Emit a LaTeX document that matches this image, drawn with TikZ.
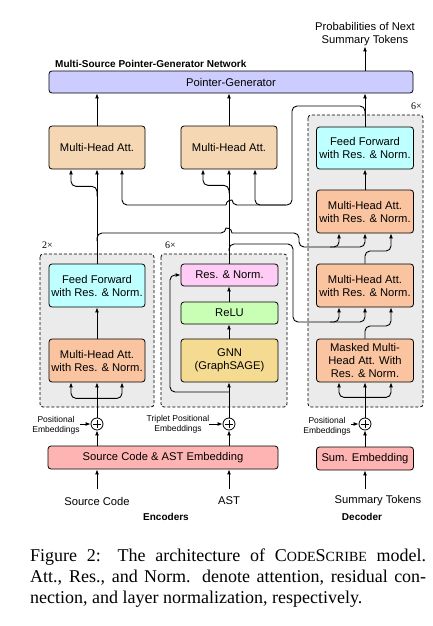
\documentclass[tikz,border=0pt]{standalone}
\usepackage{fontspec}
\setmainfont{Liberation Sans}
\newfontfamily\capfont{Liberation Serif}
\usetikzlibrary{arrows.meta,calc}
\definecolor{pgc}{RGB}{204,204,255}
\definecolor{mhac}{RGB}{245,215,180}
\definecolor{ffc}{RGB}{190,255,255}
\definecolor{mhrc}{RGB}{250,196,160}
\definecolor{resc}{RGB}{255,204,245}
\definecolor{reluc}{RGB}{200,255,180}
\definecolor{gnnc}{RGB}{245,218,145}
\definecolor{embc}{RGB}{255,180,180}
\definecolor{grpc}{RGB}{235,235,235}
\newcommand\smc[1]{{\fontsize{14}{14}\selectfont #1}}
\begin{document}
\begin{tikzpicture}[x=1pt,y=-1pt,
  every node/.style={inner sep=0pt},
  lbl/.style={font=\fontsize{11.2}{13}\selectfont, align=center},
  box/.style={draw=black, line width=0.8pt, rounded corners=3pt, align=center, font=\fontsize{11.2}{13}\selectfont, minimum width=96pt},
  tall/.style={box, minimum height=43pt},
  flat/.style={box, minimum height=22pt},
  grp/.style={draw=black, fill=grpc, line width=0.8pt, dash pattern=on 3pt off 2pt, rounded corners=3pt},
  con/.style={line width=0.9pt, rounded corners=5pt},
  arr/.style={con, -{Latex[length=5pt,width=4pt]}},
  darr/.style={con, {Latex[length=5pt,width=4pt]}-{Latex[length=5pt,width=4pt]}},
  small/.style={font=\fontsize{8.5}{10}\selectfont, align=center},
  boldlbl/.style={font=\bfseries\fontsize{10}{12}\selectfont},
  plus/.style={draw, circle, line width=0.8pt, minimum size=12pt, fill=white},
  mult/.style={font=\capfont\fontsize{10}{12}\selectfont}
]
\useasboundingbox (0,0) rectangle (432,626);

% groups
\draw[grp] (40,254) rectangle (154,407);
\draw[grp] (161,254) rectangle (287,407);
\draw[grp] (308,115) rectangle (423,407);

% labels
\node[boldlbl, anchor=west] (title) at (55,64) {Multi-Source Pointer-Generator Network};
\node[lbl] (out) at (365,34.5) {Probabilities of Next\\Summary Tokens};
\node[mult, anchor=west] (nL) at (42,245) {2×};
\node[mult, anchor=west] (nM) at (165,245) {6×};
\node[mult, anchor=east] (nD) at (422,106) {6×};

% boxes
\node[box, fill=pgc, minimum width=364pt, minimum height=22pt] (pg) at (231,82) {Pointer-Generator};
\node[tall, fill=mhac] (mhaL) at (97,147.5) {Multi-Head Att.};
\node[tall, fill=mhac] (mhaM) at (229,147.5) {Multi-Head Att.};
\node[tall, fill=ffc] (ffL) at (97,285.5) {Feed Forward\\with Res. \& Norm.};
\node[tall, fill=mhrc] (mhrL) at (97,360.5) {Multi-Head Att.\\with Res. \& Norm.};
\node[flat, fill=resc, minimum width=97pt] (resM) at (229.5,275) {Res. \& Norm.};
\node[flat, fill=reluc, minimum width=97pt] (reluM) at (229.5,313) {ReLU};
\node[tall, fill=gnnc, minimum width=97pt] (gnnM) at (229.5,360.5) {GNN\\(GraphSAGE)};
\node[tall, fill=ffc, minimum width=97pt, minimum height=42pt] (ffD) at (365,148) {Feed Forward\\with Res. \& Norm.};
\node[tall, fill=mhrc, minimum width=97pt] (mhaD1) at (365,211.5) {Multi-Head Att.\\with Res. \& Norm.};
\node[tall, fill=mhrc, minimum width=97pt] (mhaD2) at (365,285.5) {Multi-Head Att.\\with Res. \& Norm.};
\node[tall, fill=mhrc, minimum width=97pt, font=\fontsize{11.2}{12.6}\selectfont] (maskD) at (365,360.5) {Masked Multi-\\Head Att. With\\Res. \& Norm.};
\node[box, fill=embc, minimum width=230pt, minimum height=23pt] (embE) at (163,457.5) {Source Code \& AST Embedding};
\node[box, fill=embc, minimum width=97pt, minimum height=23pt] (embD) at (365,458.5) {Sum. Embedding};

% plus circles
\node[plus] (pL) at (97,424) {};
\node[plus] (pM) at (229,424) {};
\node[plus] (pD) at (365,424) {};
\foreach \p in {pL,pM,pD}{
  \draw[line width=0.8pt] ([yshift=3.6pt]\p.center) -- ([yshift=-3.6pt]\p.center)
        ([xshift=-3.6pt]\p.center) -- ([xshift=3.6pt]\p.center);
}
\node[small] (posL) at (56,425) {Positional\\Embeddings};
\node[small] (posM) at (178,424) {Triplet Positional\\Embeddings};
\node[small] (posD) at (327,426) {Positional\\Embeddings};

% inputs
\node[lbl] (srcT) at (97,501) {Source Code};
\node[lbl] (astT) at (229,501) {AST};
\node[lbl] (sumT) at (378,501) {Summary Tokens};
\node[boldlbl] (encT) at (166,517) {Encoders};
\node[boldlbl] (decT) at (362,517) {Decoder};
\coordinate (inS) at (97,489);
\coordinate (inA) at (229,489);
\coordinate (inD) at (365,489);

\draw[arr] (inS) -- (inS |- embE.south);
\draw[arr] (inA) -- (inA |- embE.south);
\draw[arr] (inD) -- (embD.south);
\draw[arr] (pL |- embE.north) -- (pL.south);
\draw[arr] (pM |- embE.north) -- (pM.south);
\draw[arr] (embD.north) -- (pD.south);
\draw[arr] (posL.east |- pL) -- (pL.west);
\draw[arr] (posM.east |- pM) -- (pM.west);
\draw[arr] (posD.east |- pD) -- (pD.west);

% left encoder
\draw[arr] (pL.north) -- (mhrL.south);
\draw[darr] ([xshift=-26pt]mhrL.south) -- ++(0,16) -- ++(51,0) -- ([xshift=25pt]mhrL.south);
\draw[arr] (mhrL.north) -- (ffL.south);
\draw[arr] (ffL.north) -- (mhaL.south);
\draw[arr] ($(mhaL.south)+(0,27)$) -- ++(0,-10) -- ++(-26,0) -- ([xshift=-26pt]mhaL.south);

% middle encoder
\draw[arr] (pM.north) -- (pM.north |- gnnM.south);
\draw[arr] (pM |- gnnM.north) -- (pM |- reluM.south);
\draw[arr] (pM |- reluM.north) -- (pM |- resM.south);
\draw[arr] (pM |- 0,392) -- (170,392) -- (170,275) -- (resM.west);
\draw[arr] (pM |- resM.north) -- (mhaM.south);
\draw[arr] ($(mhaM.south)+(0,24)$) -- ++(0,-8) -- ++(-26,0) -- ([xshift=-26pt]mhaM.south);

% to pointer generator
\draw[arr] (mhaL.north) -- (mhaL.north |- pg.south);
\draw[arr] (mhaM.north) -- (mhaM.north |- pg.south);
\draw[arr] (ffD.north) -- (ffD.north |- pg.south);
\draw[arr] (pg.north -| out) -- (out.south);

% decoder
\draw[arr] (pD.north) -- (maskD.south);
\draw[darr] ([xshift=-26pt]maskD.south) -- ++(0,15) -- ++(52,0) -- ([xshift=26pt]maskD.south);
\draw[arr] (maskD.north) -- (365,326) -- (391,326) -- ([xshift=26pt]mhaD2.south);
\draw[arr] (mhaD2.north) -- (365,251) -- (391,251) -- ([xshift=26pt]mhaD1.south);
\draw[arr] (mhaD1.north) -- (ffD.south);

% decoder output feeding encoder-side attention
\draw[arr] (365,114) -- (365,106) -- (292,106) -- (292,205) -- (232,205)
   [sharp corners] .. controls (232,200) and (226,200) .. (226,205)
   [rounded corners=5pt] -- (122,205) -- ([xshift=25pt]mhaL.south);
\draw[arr] (286,205) -- (255,205) -- ([xshift=26pt]mhaM.south);

% left encoder output to decoder
\draw[arr] (97,241) -- (97,233) -- (226,233)
   [sharp corners] .. controls (226,228) and (232,228) .. (232,233)
   [rounded corners=5pt] -- (299,233) -- (299,247) -- (339,247) -- ([xshift=-26pt]mhaD1.south);
\draw[arr] (330,247) -- (365,247) -- (mhaD1.south);

% middle encoder output to decoder
\draw[arr] (229,251) -- (229,244) -- (293,244) -- (293,322) -- (339,322) -- ([xshift=-26pt]mhaD2.south);
\draw[arr] (330,322) -- (365,322) -- (mhaD2.south);

% caption
\node[anchor=base west] (cap1) at (30,561) {\capfont\fontsize{18}{21}\selectfont\makebox[396pt][s]{Figure 2: The architecture of C\smc{ODE}S\smc{CRIBE} model.}};
\node[anchor=base west] (cap2) at (30,582) {\capfont\fontsize{18}{21}\selectfont\makebox[396pt][s]{Att., Res., and Norm. denote attention, residual con-}};
\node[anchor=base west] (cap3) at (30,603) {\capfont\fontsize{18}{21}\selectfont nection, and layer normalization, respectively.};
\end{tikzpicture}
\end{document}
